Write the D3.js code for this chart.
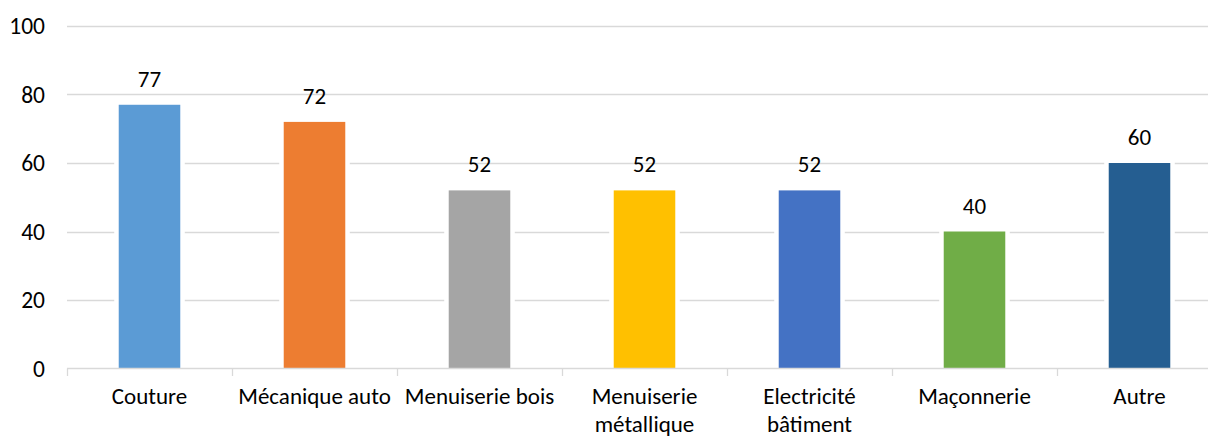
<!DOCTYPE html>
<html>
<head>
<meta charset="utf-8">
<script src="https://cdn.jsdelivr.net/npm/d3@7"></script>
<style>
  html, body { margin: 0; padding: 0; background: #fff; }
  svg { display: block; }
  text { font-family: Carlito, Lato, "Open Sans", sans-serif; fill: #000; }
</style>
</head>
<body>
<svg id="chart" width="1208" height="437"></svg>
<script>
// Trades and their percentage values
const categories = ["Couture", "Mécanique auto", "Menuiserie bois", "Menuiserie métallique", "Electricité bâtiment", "Maçonnerie", "Autre"];
const values = [77, 72, 52, 52, 52, 40, 60];
const colors = ["#5B9BD5", "#ED7D31", "#A5A5A5", "#FFC000", "#4472C4", "#70AD47", "#255E91"];
const yTicks = [0, 20, 40, 60, 80, 100];

const svg = d3.select("#chart");
const plotLeft = 67, plotRight = 1222, plotTop = 26, plotBottom = 368.5;

const x = d3.scaleBand()
  .domain(categories)
  .range([plotLeft, plotRight])
  .paddingInner(0.627)
  .paddingOuter(0.3135);

const y = d3.scaleLinear().domain([0, 100]).range([plotBottom, plotTop]);

// Horizontal gridlines
svg.append("g")
  .selectAll("line")
  .data(yTicks.filter(d => d > 0))
  .join("line")
  .attr("x1", plotLeft).attr("x2", 1208)
  .attr("y1", d => Math.round(y(d)) + 0.5)
  .attr("y2", d => Math.round(y(d)) + 0.5)
  .attr("stroke", "#D9D9D9")
  .attr("stroke-width", 1.3);

// Y axis labels
svg.append("g")
  .selectAll("text")
  .data(yTicks)
  .join("text")
  .attr("x", 45)
  .attr("y", d => y(d))
  .attr("dy", "0.35em")
  .attr("text-anchor", "end")
  .attr("font-size", 23.5)
  .text(d => d);

const bars = svg.append("g")
  .selectAll("g")
  .data(categories.map((c, i) => ({ c, v: values[i], col: colors[i] })))
  .join("g");

// White halo behind each bar
bars.append("rect")
  .attr("x", d => x(d.c) - 4.5)
  .attr("width", x.bandwidth() + 9)
  .attr("y", d => y(d.v) - 2)
  .attr("height", d => y(0) - y(d.v) + 2)
  .attr("fill", "#fff");

bars.append("rect")
  .attr("x", d => x(d.c))
  .attr("width", x.bandwidth())
  .attr("y", d => y(d.v))
  .attr("height", d => y(0) - y(d.v))
  .attr("fill", d => d.col);

// Value labels
bars.append("text")
  .attr("x", d => x(d.c) + x.bandwidth() / 2)
  .attr("y", d => y(d.v) - 18)
  .attr("text-anchor", "middle")
  .attr("font-size", 23)
  .text(d => d.v);

// X axis line and category separators
const axis = svg.append("g");
axis.append("line")
  .attr("x1", plotLeft).attr("x2", 1208)
  .attr("y1", 368.5).attr("y2", 368.5)
  .attr("stroke", "#D9D9D9").attr("stroke-width", 1.3);
const step = x.step();
axis.selectAll("line.tick")
  .data(d3.range(categories.length + 1))
  .join("line")
  .attr("class", "tick")
  .attr("x1", i => Math.round(plotLeft + i * step) + 0.5)
  .attr("x2", i => Math.round(plotLeft + i * step) + 0.5)
  .attr("y1", 368.5).attr("y2", 376)
  .attr("stroke", "#D9D9D9").attr("stroke-width", 1.3);

// Category labels, wrapped to the band width
const labels = svg.append("g")
  .selectAll("text")
  .data(categories)
  .join("text")
  .attr("x", d => x(d) + x.bandwidth() / 2)
  .attr("y", 404)
  .attr("text-anchor", "middle")
  .attr("font-size", 23);

labels.each(function(d) {
  const t = d3.select(this);
  const maxW = step;
  const words = d.split(" ");
  let lines = [], cur = [];
  words.forEach(w => {
    const test = cur.concat(w).join(" ");
    t.text(test);
    if (this.getComputedTextLength() > maxW && cur.length) {
      lines.push(cur.join(" "));
      cur = [w];
    } else {
      cur.push(w);
    }
  });
  lines.push(cur.join(" "));
  t.text(null);
  lines.forEach((l, i) => {
    t.append("tspan")
      .attr("x", x(d) + x.bandwidth() / 2)
      .attr("dy", i === 0 ? 0 : 27.6)
      .text(l);
  });
});
</script>
</body>
</html>
